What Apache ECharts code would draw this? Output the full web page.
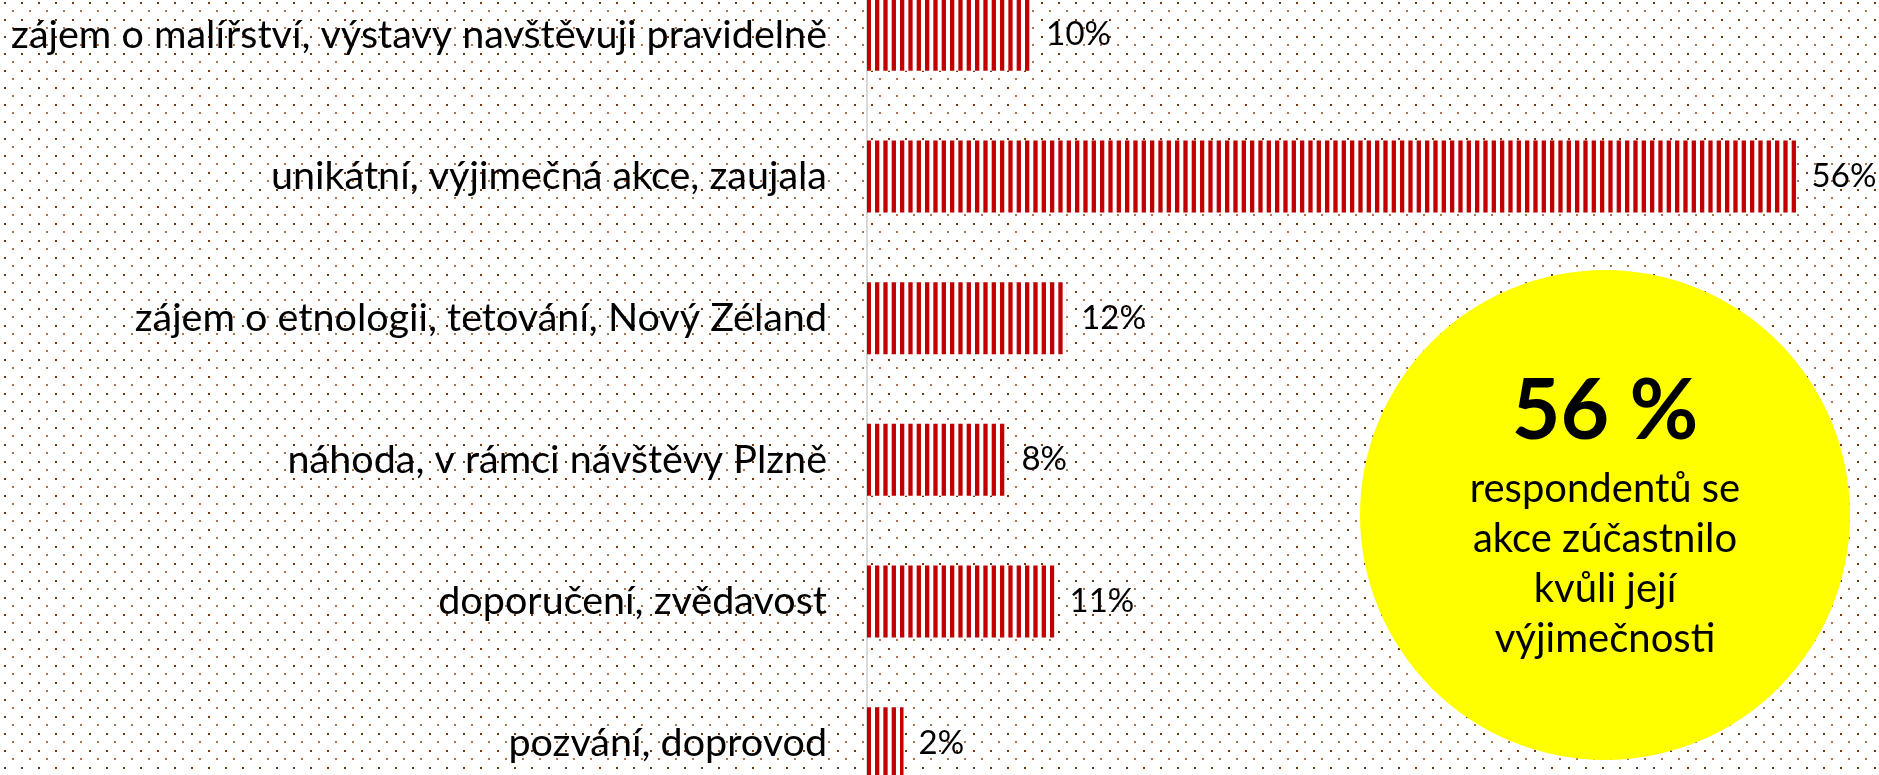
<!DOCTYPE html>
<html>
<head>
<meta charset="utf-8">
<script src="https://cdn.jsdelivr.net/npm/echarts@6/dist/echarts.min.js"></script>
<style>
  html, body { margin: 0; padding: 0; background: #fff; }
  #chart { width: 1879px; height: 775px; }
</style>
</head>
<body>
<div id="chart"></div>
<script>
// kategorie odshora dolu
const categories = [
  'zájem o malířství, výstavy navštěvuji pravidelně',
  'unikátní, výjimečná akce, zaujala',
  'zájem o etnologii, tetování, Nový Zéland',
  'náhoda, v rámci návštěvy Plzně',
  'doporučení, zvědavost',
  'pozvání, doprovod'
];
// odečteno z délky sloupců, popisky se zaokrouhlují
const values = [9.9, 56, 12, 8.4, 11.3, 2.2];
const circleLines = ['respondentů se', 'akce zúčastnilo', 'kvůli její', 'výjimečnosti'];

// tečkovaný podklad
function dotPattern() {
  const c = document.createElement('canvas');
  c.width = 17; c.height = 17;
  const ctx = c.getContext('2d');
  ctx.fillStyle = '#fff';
  ctx.fillRect(0, 0, 17, 17);
  ctx.fillStyle = '#7a3608';
  ctx.fillRect(4, 2, 2, 2);
  ctx.fillStyle = '#b4704a';
  ctx.fillRect(12, 10, 2, 2);
  return c;
}

// svislé proužky ve sloupcích
function stripePattern() {
  const c = document.createElement('canvas');
  c.width = 25; c.height = 10;
  const ctx = c.getContext('2d');
  ctx.fillStyle = '#fff';
  ctx.fillRect(0, 0, 25, 10);
  ctx.fillStyle = '#c00000';
  for (let i = 0; i < 3; i++) {
    ctx.fillRect(i * 25 / 3, 0, 4.3, 10);
  }
  return c;
}

const chart = echarts.init(document.getElementById('chart'));
const font = 'Lato, "Open Sans", sans-serif';

chart.setOption({
  backgroundColor: '#fff',
  animation: false,
  grid: { left: 867, top: -36, width: 996, height: 850, outerBoundsMode: 'none' },
  xAxis: { type: 'value', min: 0, max: 60, show: false },
  yAxis: {
    type: 'category',
    data: categories,
    inverse: true,
    axisLine: { show: true, lineStyle: { color: '#d9d9d9', width: 2 } },
    axisTick: { show: false },
    axisLabel: { color: '#000', fontSize: 39.5, fontFamily: font, margin: 40 }
  },
  graphic: [
    {
      type: 'rect', z: -10, silent: true,
      shape: { x: 0, y: 0, width: 1879, height: 775 },
      style: { fill: { image: dotPattern(), repeat: 'repeat' } }
    },
    {
      type: 'circle', z: 100, silent: true,
      shape: { cx: 1605, cy: 515, r: 245 },
      style: { fill: '#ffff00' }
    },
    {
      type: 'text', z: 101, silent: true,
      x: 1605, y: 412,
      style: { text: '56 %', fontSize: 84, fontWeight: 'bold', fontFamily: font, fill: '#000', align: 'center', verticalAlign: 'middle' }
    },
    {
      type: 'text', z: 101, silent: true,
      x: 1605, y: 564,
      style: { text: circleLines.join('\n'), fontSize: 40, lineHeight: 50, fontFamily: font, fill: '#000', align: 'center', verticalAlign: 'middle' }
    }
  ],
  series: [{
    type: 'bar',
    data: values,
    barWidth: 72,
    itemStyle: { color: { image: stripePattern(), repeat: 'repeat' } },
    label: {
      show: true, position: 'right', distance: 15,
      formatter: (p) => Math.round(p.value) + '%',
      color: '#000', fontSize: 33, fontFamily: font
    }
  }]
});
</script>
</body>
</html>
